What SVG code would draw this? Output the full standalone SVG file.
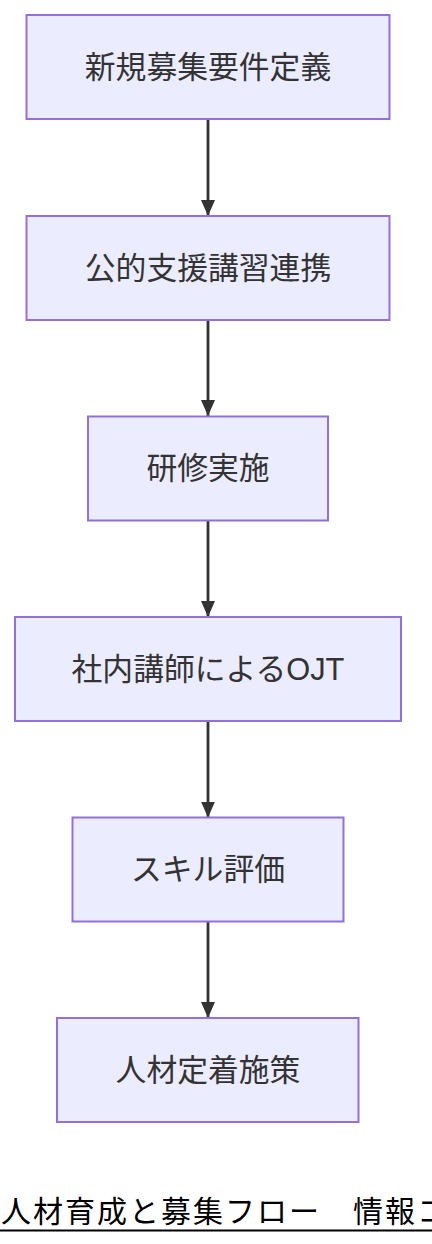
<svg xmlns="http://www.w3.org/2000/svg" width="432" height="1244" viewBox="0 0 432 1244">
<style>
.node rect{fill:#ECECFF;stroke:#9370DB;stroke-width:2}
.node text{font-family:"Liberation Sans","Noto Sans CJK JP",sans-serif;font-size:30.8px;fill:#333;text-anchor:middle;dominant-baseline:central}
.edge{stroke:#333;stroke-width:2.8;fill:none}
.title{font-family:"Noto Sans CJK JP",sans-serif;font-size:30px;fill:#000}
</style>
<defs>
<marker id="arrow" viewBox="0 0 16 14" refX="16" refY="7" markerWidth="16" markerHeight="14" markerUnits="userSpaceOnUse" orient="auto">
<path d="M0,0 L16,7 L0,14 Z" fill="#333"/>
</marker>
</defs>
<rect width="432" height="1244" fill="#fff"/>
<g id="connectors">
<line class="edge" x1="208" y1="119" x2="208" y2="216" marker-end="url(#arrow)"/>
<line class="edge" x1="208" y1="320" x2="208" y2="416" marker-end="url(#arrow)"/>
<line class="edge" x1="208" y1="520.5" x2="208" y2="617" marker-end="url(#arrow)"/>
<line class="edge" x1="208" y1="721" x2="208" y2="817.5" marker-end="url(#arrow)"/>
<line class="edge" x1="208" y1="921.5" x2="208" y2="1018" marker-end="url(#arrow)"/>
</g>
<g id="n1" class="node"><rect x="26.5" y="15" width="363" height="104"/><text x="208" y="67">新規募集要件定義</text></g>
<g id="n2" class="node"><rect x="26.5" y="216" width="363" height="104"/><text x="208" y="268">公的支援講習連携</text></g>
<g id="n3" class="node"><rect x="88" y="416.5" width="240" height="104"/><text x="208" y="468.5">研修実施</text></g>
<g id="n4" class="node"><rect x="15" y="617" width="386" height="104"/><text x="208" y="669">社内講師によるOJT</text></g>
<g id="n5" class="node"><rect x="72.5" y="817.5" width="271" height="104"/><text x="208" y="869.5">スキル評価</text></g>
<g id="n6" class="node"><rect x="57" y="1018" width="301.5" height="104"/><text x="208" y="1070">人材定着施策</text></g>
<g id="title">
<text class="title" x="1" y="1222" letter-spacing="2">人材育成と募集フロー　情報コ</text>
<line x1="0" y1="1230.5" x2="432" y2="1230.5" stroke="#000" stroke-width="2"/>
</g>
</svg>
